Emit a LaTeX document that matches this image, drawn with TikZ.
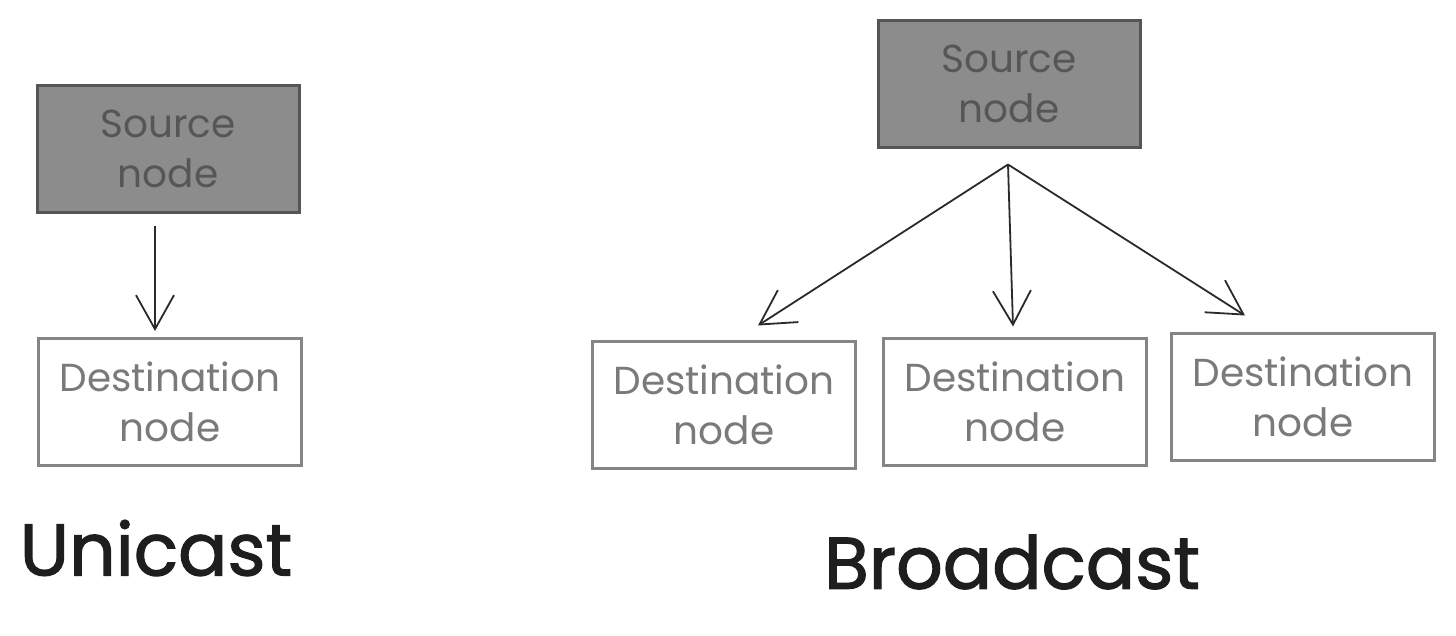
\documentclass[tikz,border=0pt]{standalone}
\usepackage{fontspec}
\setmainfont{Poppins}
\newfontfamily\titlefont[FakeBold=1.6]{Poppins}
\usepackage{tikz}
\usetikzlibrary{arrows.meta,positioning}
\definecolor{srcfill}{HTML}{8C8C8C}
\definecolor{srcline}{HTML}{555555}
\definecolor{srctext}{HTML}{565656}
\definecolor{dstline}{HTML}{858585}
\definecolor{dsttext}{HTML}{7A7A7A}
\definecolor{arrowcol}{HTML}{2A2A2A}
\definecolor{titlecol}{HTML}{1E1E1E}

\begin{document}
\begin{tikzpicture}[x=1pt, y=-1pt,
    srcbox/.style={draw=srcline, line width=3pt, fill=srcfill, minimum width=262pt, minimum height=127pt,
        align=center, text=srctext, font=\fontsize{39}{50}\selectfont},
    dstbox/.style={draw=dstline, line width=3pt, fill=white, minimum width=263pt, minimum height=127pt,
        align=center, text=dsttext, font=\fontsize{39}{50}\selectfont},
    sendarrow/.style={draw=arrowcol, line width=1.8pt, -{Straight Barb[length=34pt, width=38pt, line width=1.8pt]}},
    title/.style={text=titlecol, font=\titlefont\fontsize{73}{76}\selectfont}]
    \useasboundingbox (0,0) rectangle (1456,636);

    % Unicast
    \node[srcbox] (usrc) at (168,149) {Source\\node};
    \node[dstbox] (udst) at (170,402) {Destination\\node};
    \draw[sendarrow] ([xshift=-13pt, yshift=-12pt]usrc.south) -- ([xshift=-15pt, yshift=6pt]udst.north);
    \node[title] (utitle) at (156,548) {Unicast};

    % Broadcast
    \node[srcbox] (bsrc) at (1009,84) {Source\\node};
    \node[dstbox] (bdst1) at (724,405) {Destination\\node};
    \node[dstbox] (bdst2) at (1015,402) {Destination\\node};
    \node[dstbox] (bdst3) at (1303,397) {Destination\\node};
    \coordinate (bfork) at ([xshift=-1pt, yshift=-15.5pt]bsrc.south);
    \draw[sendarrow] (bfork) -- ([xshift=34pt, yshift=14.5pt]bdst1.north);
    \draw[sendarrow] (bfork) -- ([xshift=-2pt, yshift=10.5pt]bdst2.north);
    \draw[sendarrow] (bfork) -- ([xshift=-58pt, yshift=16.5pt]bdst3.north);
    \node[title] (btitle) at (1012,562) {Broadcast};
\end{tikzpicture}
\end{document}
